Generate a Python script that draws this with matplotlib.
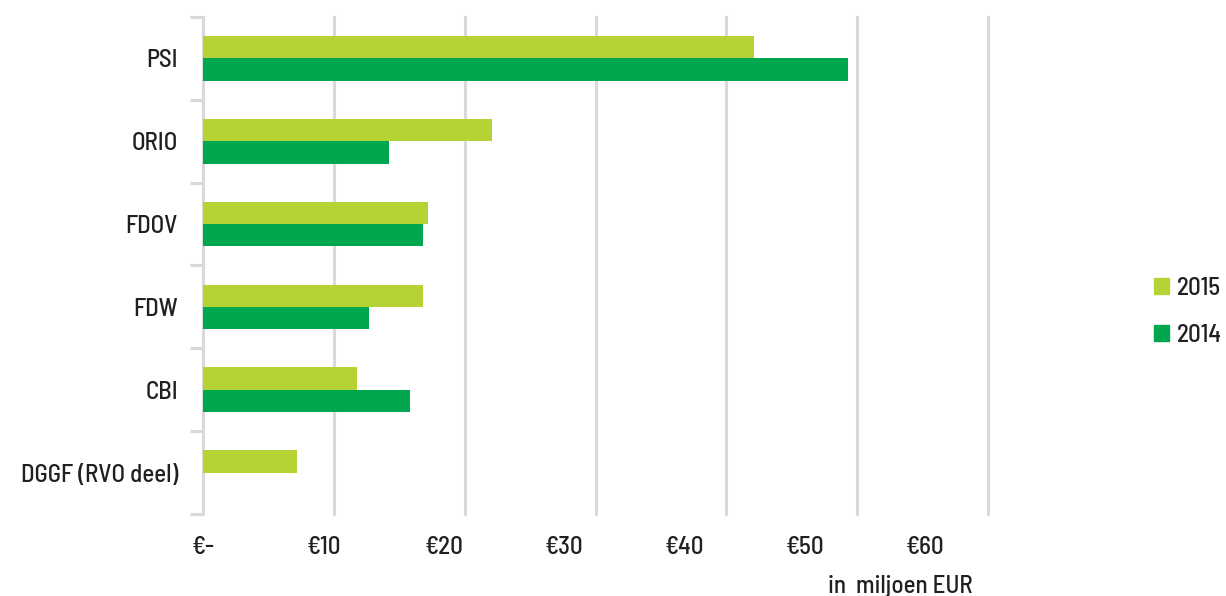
import numpy as np
import matplotlib
matplotlib.use("Agg")
import matplotlib.pyplot as plt
from matplotlib.patches import Patch

plt.rcParams['font.family'] = ['Barlow Semi Condensed', 'DejaVu Sans']
plt.rcParams['font.weight'] = 500

# Data (in miljoen EUR)
categories = ['PSI', 'ORIO', 'FDOV', 'FDW', 'CBI', 'DGGF (RVO deel)']
values_2015 = [42.1, 22.1, 17.2, 16.8, 11.8, 7.2]
values_2014 = [49.3, 14.2, 16.8, 12.7, 15.8, 0.0]
grid_values = [10, 20, 30, 40, 50, 60]
tick_labels = ['€-', '€10', '€20', '€30', '€40', '€50', '€60']

color_2015 = '#b5d334'
color_2014 = '#00a74e'
grid_color = '#d9d9d9'
text_color = '#231f20'
fsize = 18

fig = plt.figure(figsize=(12.26, 5.96), dpi=100)
ax = fig.add_axes([0.1656, 0.1376, 0.6404, 0.8339])

y = np.arange(len(categories))
bar_h = 0.27
ax.barh(y - bar_h / 2, values_2015, height=bar_h, color=color_2015, zorder=3)
ax.barh(y + bar_h / 2, values_2014, height=bar_h, color=color_2014, zorder=3)

ax.set_xlim(0, 60)
ax.set_ylim(len(categories) - 0.5, -0.5)

# vertical gridlines
for g in grid_values:
    ax.axvline(g, color=grid_color, lw=2.2, zorder=1, clip_on=False)

for s in ['top', 'right', 'bottom']:
    ax.spines[s].set_visible(False)
ax.spines['left'].set_color(grid_color)
ax.spines['left'].set_linewidth(2.2)

# y ticks at category boundaries, labels at centers
ax.set_yticks(np.arange(len(categories) + 1) - 0.5)
ax.set_yticklabels([])
ax.tick_params(axis='y', which='major', length=9.5, width=2.2, color=grid_color)
ax.set_yticks(y, minor=True)
ax.set_yticklabels(categories, minor=True)
ax.tick_params(axis='y', which='minor', length=0, pad=18, labelsize=fsize,
               labelcolor=text_color)

# x tick labels (spaced as in the original)
label_pos = [9.2 * i for i in range(len(tick_labels))]
ax.set_xticks(label_pos)
ax.set_xticklabels(tick_labels)
ax.tick_params(axis='x', length=0, pad=16, labelsize=fsize, labelcolor=text_color)

fig.text(900 / 1226, 1 - 586 / 596, 'in  miljoen EUR', ha='center', va='center',
         fontsize=fsize, color=text_color)

handles = [Patch(color=color_2015, label='2015'), Patch(color=color_2014, label='2014')]
fig.legend(handles=handles, loc='center left', bbox_to_anchor=(1154 / 1226, 1 - 312 / 596),
           frameon=False, fontsize=fsize, handlelength=0.6, handleheight=0.6,
           handletextpad=0.3, labelspacing=0.95, labelcolor=text_color,
           borderpad=0, borderaxespad=0)

fig.savefig('out.png', dpi=100)
